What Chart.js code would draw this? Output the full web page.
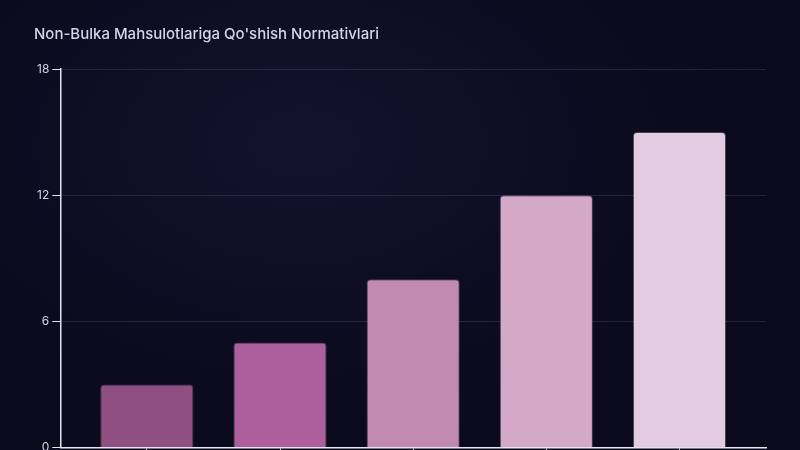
<!DOCTYPE html>
<html>
<head>
<meta charset="utf-8">
<script src="https://cdn.jsdelivr.net/npm/chart.js@4.4.0/dist/chart.umd.min.js"></script>
<style>
    html, body { margin: 0; padding: 0; overflow: hidden; }
    body {
        width: 800px; height: 450px;
        background: radial-gradient(ellipse 60% 70% at 38% 32%, #15132c 0%, #0d0c22 55%, #0a0a1c 100%);
    }
    #wrap { width: 800px; height: 476px; }
</style>
</head>
<body>
<div id="wrap"><canvas id="normChart"></canvas></div>
<script>
    // Data
    const categories = ['Tuz', 'Shakar', "Yog'", 'Tuxum', 'Sut'];
    const values = [3, 5, 8, 12, 15];
    const barColors = ['#8f5081', '#ad5f9d', '#c289b1', '#d4a9c7', '#e3cce2'];
    const yTicks = [0, 6, 12, 18];

    const textColor = '#d6d4e8';
    const axisColor = '#e6e4f0';

    const ctx = document.getElementById('normChart').getContext('2d');
    new Chart(ctx, {
        type: 'bar',
        data: {
            datasets: [{
                data: values.map((v, i) => ({ x: i, y: v })),
                backgroundColor: barColors,
                borderColor: 'rgba(255,255,255,0.22)',
                borderWidth: 1,
                borderRadius: 4,
                borderSkipped: 'bottom',
                categoryPercentage: 0.8,
                barPercentage: 0.875
            }]
        },
        options: {
            responsive: true,
            maintainAspectRatio: false,
            animation: false,
            layout: { padding: { top: 0, left: 34, right: 34, bottom: 0 } },
            plugins: {
                legend: { display: false },
                tooltip: { enabled: false },
                title: {
                    display: true,
                    text: "Non-Bulka Mahsulotlariga Qo'shish Normativlari",
                    align: 'start',
                    color: textColor,
                    font: { family: 'Inter', size: 15, weight: '500' },
                    padding: { top: 25, bottom: 26 }
                }
            },
            scales: {
                x: {
                    type: 'linear',
                    offset: false,
                    min: -0.65,
                    max: 4.65,
                    grid: { display: true, offset: false, drawOnChartArea: false, tickLength: 8, tickColor: axisColor },
                    border: { color: axisColor, width: 1.5 },
                    ticks: {
                        stepSize: 1,
                        includeBounds: false,
                        color: textColor,
                        font: { family: 'Inter', size: 12 },
                        callback: v => Number.isInteger(v) ? categories[v] : ''
                    }
                },
                y: {
                    min: yTicks[0],
                    max: yTicks[yTicks.length - 1],
                    afterBuildTicks: axis => { axis.ticks = yTicks.map(v => ({ value: v })); },
                    grid: { color: 'rgba(200,200,240,0.13)', tickLength: 8, tickColor: axisColor },
                    border: { color: axisColor, width: 1.5 },
                    ticks: {
                        color: textColor,
                        padding: 3,
                        font: { family: 'Inter', size: 12 }
                    }
                }
            }
        }
    });
</script>
</body>
</html>
